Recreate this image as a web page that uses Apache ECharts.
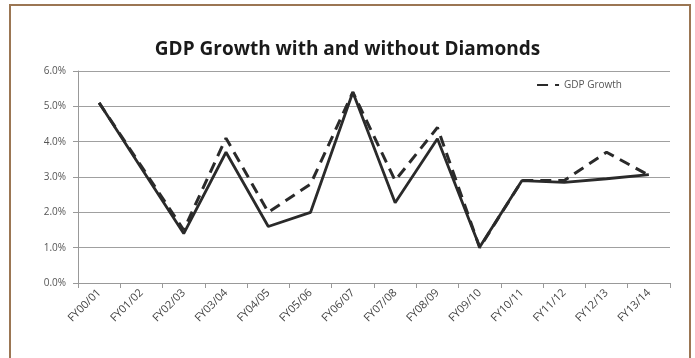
<!DOCTYPE html>
<html>
<head>
<meta charset="utf-8">
<script src="https://cdn.jsdelivr.net/npm/echarts@6/dist/echarts.min.js"></script>
<style>
  html, body { margin: 0; padding: 0; background: #fff; }
  #chart { width: 695px; height: 358px; }
</style>
</head>
<body>
<div id="chart"></div>
<script>
const categories = ['FY00/01', 'FY01/02', 'FY02/03', 'FY03/04', 'FY04/05', 'FY05/06', 'FY06/07',
  'FY07/08', 'FY08/09', 'FY09/10', 'FY10/11', 'FY11/12', 'FY12/13', 'FY13/14']
// with diamonds (dashed)
const gdpGrowth = [5.1, 3.3, 1.5, 4.1, 2.0, 2.8, 5.4, 2.9, 4.4, 1.0, 2.9, 2.9, 3.7, 3.05]
// without diamonds (solid)
const gdpNonDiamond = [5.1, 3.25, 1.4, 3.7, 1.6, 2.0, 5.4, 2.27, 4.08, 1.02, 2.9, 2.85, 2.95, 3.07]
const yTicks = [0, 1, 2, 3, 4, 5, 6]

const chart = echarts.init(document.getElementById('chart'))
chart.setOption({
  animation: false,
  backgroundColor: '#fff',
  graphic: [{
    type: 'rect',
    shape: { x: 10, y: 5, width: 680, height: 360 },
    style: { fill: 'none', stroke: '#9b7653', lineWidth: 2 },
    silent: true
  }],
  title: {
    text: 'GDP Growth with and without Diamonds',
    left: 'center',
    top: 35,
    textStyle: {
      fontFamily: 'Open Sans',
      fontWeight: 'bold',
      fontSize: 19,
      color: '#1a1a1a'
    }
  },
  legend: {
    right: 68,
    top: 75,
    itemWidth: 22,
    itemHeight: 10,
    data: ['GDP Growth'],
    itemStyle: { opacity: 0 },
    textStyle: { fontFamily: 'Open Sans', fontSize: 10, color: '#555' }
  },
  grid: {
    left: 78,
    right: 25,
    top: 71,
    bottom: 75,
    containLabel: false
  },
  xAxis: {
    type: 'category',
    data: categories,
    boundaryGap: true,
    axisLine: { lineStyle: { color: '#999', width: 1 } },
    axisTick: { show: true, alignWithLabel: false, lineStyle: { color: '#999' } },
    axisLabel: {
      rotate: 45,
      interval: 0,
      fontFamily: 'Open Sans',
      fontSize: 11,
      color: '#444',
      margin: 8
    }
  },
  yAxis: {
    type: 'value',
    min: yTicks[0],
    max: yTicks[yTicks.length - 1],
    interval: 1,
    axisLine: { show: true, lineStyle: { color: '#999' } },
    axisTick: { show: true, lineStyle: { color: '#999' } },
    splitLine: { lineStyle: { color: '#a0a0a0', width: 1 } },
    axisLabel: {
      formatter: v => v.toFixed(1) + '%',
      fontFamily: 'Open Sans',
      fontSize: 10,
      color: '#555',
      margin: 12
    }
  },
  series: [
    {
      name: 'GDP Growth',
      type: 'line',
      data: gdpGrowth,
      symbol: 'none',
      z: 3,
      lineStyle: { color: '#2a2a2a', width: 3, type: [11, 7] },
      itemStyle: { color: '#2a2a2a' }
    },
    {
      name: 'GDP Growth without Diamonds',
      type: 'line',
      data: gdpNonDiamond,
      symbol: 'none',
      z: 2,
      lineStyle: { color: '#2a2a2a', width: 2.8 },
      itemStyle: { color: '#2a2a2a' }
    }
  ]
})
</script>
</body>
</html>
